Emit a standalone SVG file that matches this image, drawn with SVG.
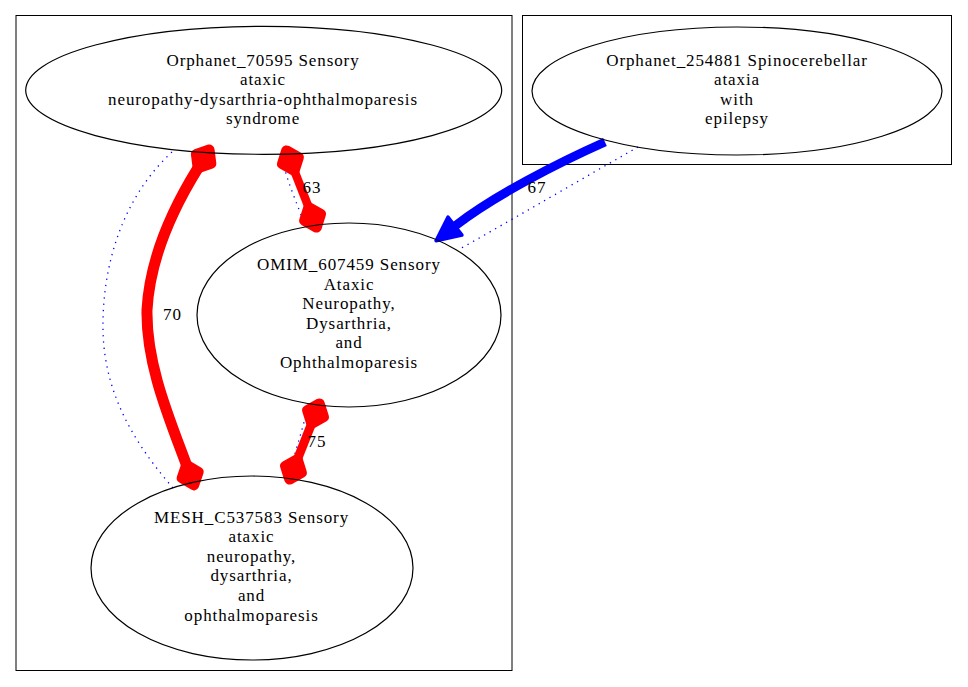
<svg xmlns="http://www.w3.org/2000/svg" width="968" height="687" viewBox="0 0 968 687">
<style>
text{font-family:"Liberation Serif","Times New Roman",serif;font-size:17px;letter-spacing:0.9px;text-anchor:middle;fill:#000}
.cl{fill:none;stroke:#000;stroke-width:1}
.nd{fill:none;stroke:#000;stroke-width:1.2}
.red{fill:none;stroke:#f00;marker-start:url(#dia);marker-end:url(#dia)}
.dot{fill:none;stroke:#00f;stroke-width:1.3;stroke-dasharray:1.3,5}
</style>
<defs>
<marker id="dia" markerUnits="userSpaceOnUse" orient="auto-start-reverse" refX="0" refY="0" markerWidth="40" markerHeight="40" viewBox="-5 -15 30 30" overflow="visible">
<polygon points="0,0 8,6.5 16,0 8,-6.5" fill="#f00" stroke="#f00" stroke-width="8" stroke-linejoin="round"/>
</marker>
<marker id="arr" markerUnits="userSpaceOnUse" orient="auto" refX="0" refY="0" markerWidth="40" markerHeight="40" viewBox="-5 -15 35 30" overflow="visible">
<polygon points="0,-10 21,0 0,10" fill="#00f" stroke="#00f" stroke-width="3" stroke-linejoin="round"/>
</marker>
</defs>
<rect width="968" height="687" fill="#fff"/>
<g id="clusters">
<rect class="cl" x="16" y="15.5" width="496" height="655"/>
<rect class="cl" x="522.5" y="15.5" width="429" height="149"/>
</g>
<g id="edges">
<path class="dot" d="M172,152 C120,200 102,270 103,330 C104,400 142,452 173,488"/>
<path class="dot" d="M281,154 C286,180 298,205 305,226"/>
<path class="dot" d="M309,404 C302,430 294,458 287,479"/>
<path class="dot" d="M638,147 C580,180 520,215 458,250"/>
<path class="red" stroke-width="11" d="M198,168 C175,205 150,255 147,310 C146,365 170,420 186.5,465"/>
<path class="red" stroke-width="8.5" d="M294.3,170.6 L308.7,207.4"/>
<path class="red" stroke-width="9" d="M311.6,423.6 L297.4,459.4"/>
<path fill="none" stroke="#00f" stroke-width="9" marker-end="url(#arr)" d="M605,142 C560,162 495,195 455,226"/>
<text x="172.5" y="320">70</text>
<text x="312" y="193">63</text>
<text x="317" y="446.5">75</text>
<text x="537" y="193">67</text>
</g>
<g id="n_orphanet70595">
<ellipse class="nd" cx="263.7" cy="90.3" rx="238" ry="64"/>
<text x="263" y="65.5">Orphanet_70595 Sensory</text>
<text x="263" y="85">ataxic</text>
<text x="263" y="104.5">neuropathy-dysarthria-ophthalmoparesis</text>
<text x="263" y="124">syndrome</text>
</g>
<g id="n_omim607459">
<ellipse class="nd" cx="349" cy="315" rx="152" ry="92"/>
<text x="349" y="270">OMIM_607459 Sensory</text>
<text x="349" y="289.5">Ataxic</text>
<text x="349" y="309">Neuropathy,</text>
<text x="349" y="328.5">Dysarthria,</text>
<text x="349" y="348">and</text>
<text x="349" y="367.5">Ophthalmoparesis</text>
</g>
<g id="n_mesh_c537583">
<ellipse class="nd" cx="252" cy="568" rx="161" ry="92"/>
<text x="251.5" y="522.5">MESH_C537583 Sensory</text>
<text x="251.5" y="542.1">ataxic</text>
<text x="251.5" y="561.7">neuropathy,</text>
<text x="251.5" y="581.3">dysarthria,</text>
<text x="251.5" y="600.9">and</text>
<text x="251.5" y="620.5">ophthalmoparesis</text>
</g>
<g id="n_orphanet254881">
<ellipse class="nd" cx="737" cy="91" rx="205" ry="64"/>
<text x="737" y="65.5">Orphanet_254881 Spinocerebellar</text>
<text x="737" y="85">ataxia</text>
<text x="737" y="104.5">with</text>
<text x="737" y="124">epilepsy</text>
</g>
</svg>
